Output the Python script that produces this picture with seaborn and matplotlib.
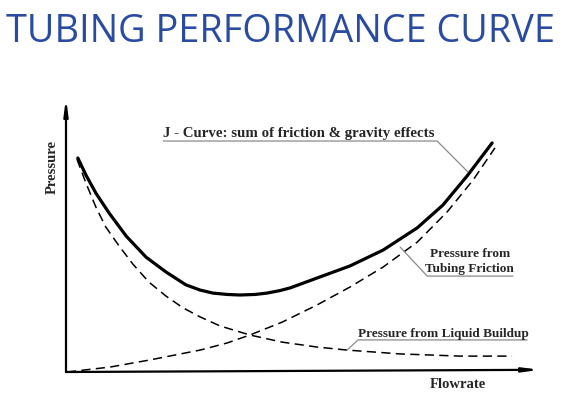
import matplotlib
matplotlib.use("Agg")
import matplotlib.pyplot as plt
import seaborn as sns
import pandas as pd

# ---- data (flowrate 0-100, pressure 0-100, arbitrary units) ----
j_flow = [2.5, 4.2, 6.3, 9.1, 12.7, 16.9, 21.1, 25.3, 28.3, 31.0, 34.0, 36.7, 39.9, 42.4,
          45.1, 47.3, 53.6, 59.9, 66.9, 74.1, 79.5, 84.6, 89.9]
j_pres = [78.1, 71.9, 65.3, 58.0, 49.6, 41.9, 36.5, 31.8, 29.9, 28.8, 28.3, 28.1, 28.3, 28.8,
          29.7, 30.7, 34.7, 38.7, 44.5, 52.6, 60.9, 71.5, 83.6]

liq_flow = [2.3, 4.2, 6.3, 8.4, 11.2, 14.1, 17.5, 21.1, 24.7, 28.3, 32.5, 38.8, 45.6, 53.0,
            59.3, 70.5, 83.1, 94.1]
liq_pres = [77.7, 69.0, 60.2, 52.9, 46.0, 39.4, 32.8, 27.7, 23.4, 20.1, 16.8, 13.5, 10.9, 9.1,
            8.0, 6.6, 5.8, 5.8]

fric_flow = [0.2, 9.3, 17.7, 28.3, 34.0, 38.8, 45.6, 53.0, 59.9, 66.9, 74.1, 80.4, 85.9, 90.5]
fric_pres = [0.0, 1.8, 4.4, 8.0, 10.6, 13.5, 18.2, 24.5, 31.0, 38.3, 47.4, 58.4, 70.1, 81.8]

title_text = "TUBING PERFORMANCE CURVE"
x_label = "Flowrate"
y_label = "Pressure"
j_label = "J - Curve: sum of friction & gravity effects"
fric_label = ["Pressure from", "Tubing Friction"]
liq_label = "Pressure from Liquid Buildup"

sns.set_style("white")
plt.rcParams["font.family"] = ["DejaVu Sans"]

fig = plt.figure(figsize=(5.64, 3.98), dpi=100)
fig.patch.set_facecolor("white")
ax = fig.add_axes([66/564, 26/398, 474/564, 274/398])
ax.set_xlim(0, 100)
ax.set_ylim(0, 100)
ax.axis("off")

df_j = pd.DataFrame({"flow": j_flow, "pres": j_pres})
df_l = pd.DataFrame({"flow": liq_flow, "pres": liq_pres})
df_f = pd.DataFrame({"flow": fric_flow, "pres": fric_pres})

sns.lineplot(data=df_j, x="flow", y="pres", ax=ax, color="black", lw=2.3, sort=False)
sns.lineplot(data=df_l, x="flow", y="pres", ax=ax, color="black", lw=1.1,
             sort=False, linestyle=(0, (6, 3.5)))
sns.lineplot(data=df_f, x="flow", y="pres", ax=ax, color="black", lw=1.1,
             sort=False, linestyle=(0, (6, 3.5)))
for ln in ax.get_lines():
    ln.set_solid_joinstyle("round")
    ln.set_dash_joinstyle("round")
ax.set_xlabel("")
ax.set_ylabel("")

# axes arrows
arrow_kw = dict(arrowstyle="-|>,head_length=0.9,head_width=0.12", color="black", lw=1.6,
                shrinkA=0, shrinkB=0)
ax.annotate("", xy=(0, 1.0), xytext=(0, 0), xycoords="axes fraction",
            textcoords="axes fraction", arrowprops=arrow_kw, annotation_clip=False)
ax.annotate("", xy=(1.0, 0.008), xytext=(0, 0), xycoords="axes fraction",
            textcoords="axes fraction", arrowprops=arrow_kw, annotation_clip=False)

serif = ["Liberation Serif", "DejaVu Serif"]
ax.text(-2.8, 74.8, y_label, rotation=90, ha="center", va="center",
        fontsize=10.5, fontweight="bold", family=serif, clip_on=False)
ax.text(82.7, -4.7, x_label, ha="center", va="center",
        fontsize=10.5, fontweight="bold", family=serif, clip_on=False)

lead = dict(color="#8a8a8a", lw=0.9)
# J-curve label
ax.text(20.5, 85.8, j_label, ha="left", va="baseline", fontsize=10.7,
        fontweight="bold", family=serif)
ax.plot([20.5, 78.3, 84.8], [84.3, 84.3, 73.0], **lead)
# friction label
ax.text(85.2, 42.0, fric_label[0], ha="center", va="baseline", fontsize=9.5,
        fontweight="bold", family=serif)
ax.text(85.2, 36.5, fric_label[1], ha="center", va="baseline", fontsize=9.5,
        fontweight="bold", family=serif)
ax.plot([94.3, 76.2, 70.5], [35.0, 35.0, 45.6], **lead)
# liquid label
ax.text(61.6, 12.8, liq_label, ha="left", va="baseline", fontsize=9.5,
        fontweight="bold", family=serif)
ax.plot([97.3, 61.6, 59.3], [11.7, 11.7, 8.0], **lead)

fig.text(280.5/564, 1 - 42/398, title_text, ha="center", va="baseline",
         fontsize=27.3, color="#2a4ba3", family=["Open Sans", "DejaVu Sans"])

fig.savefig("out.png", dpi=100, facecolor="white")
